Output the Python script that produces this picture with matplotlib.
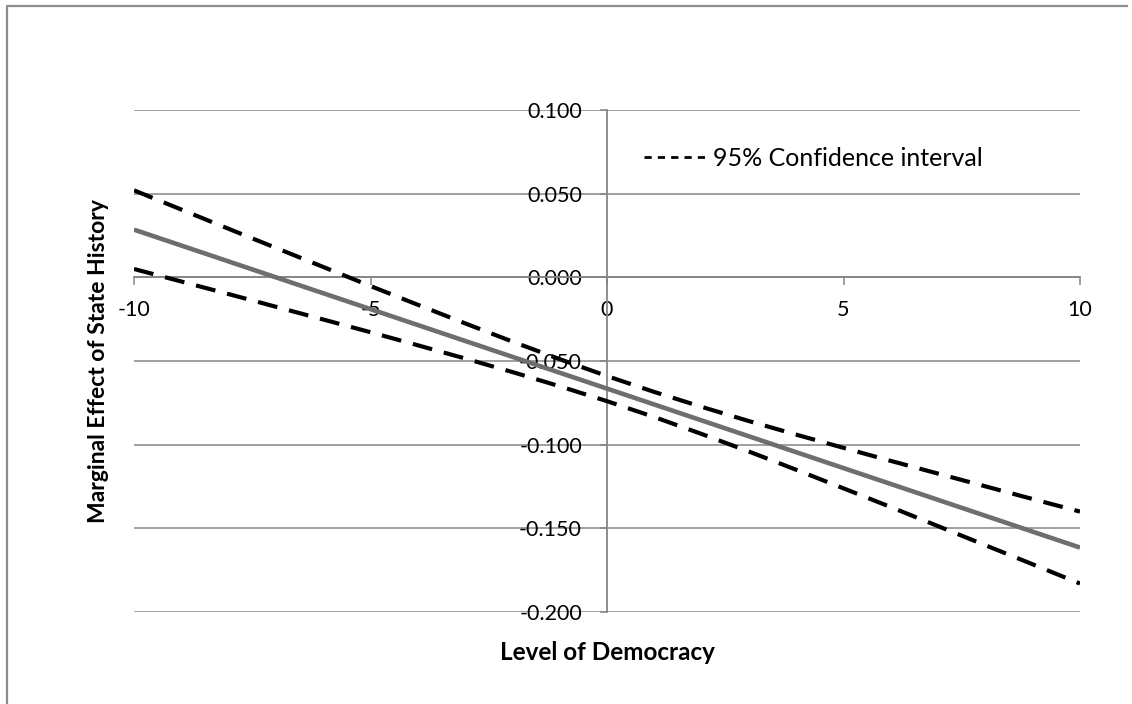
import matplotlib
matplotlib.use("Agg")
import matplotlib.pyplot as plt
from matplotlib.lines import Line2D

# marginal effect of state history by level of democracy
democracy = [-10, -9, -8, -7, -6, -5, -4, -3, -2, -1, 0,
             1, 2, 3, 4, 5, 6, 7, 8, 9, 10]
effect = [0.0285, 0.0190, 0.0095, 0.0000, -0.0095, -0.0190, -0.0285,
          -0.0380, -0.0475, -0.0570, -0.0665, -0.0760, -0.0855, -0.0950,
          -0.1045, -0.1140, -0.1235, -0.1330, -0.1425, -0.1520, -0.1615]
ci_upper = [0.0520, 0.0405, 0.0290, 0.0176, 0.0062, -0.0052, -0.0164,
            -0.0275, -0.0384, -0.0489, -0.0590, -0.0685, -0.0774, -0.0859,
            -0.0940, -0.1019, -0.1097, -0.1173, -0.1249, -0.1325, -0.1400]
ci_lower = [0.0050, -0.0025, -0.0100, -0.0176, -0.0252, -0.0328, -0.0406,
            -0.0485, -0.0566, -0.0651, -0.0740, -0.0835, -0.0936, -0.1041,
            -0.1150, -0.1261, -0.1373, -0.1487, -0.1601, -0.1715, -0.1830]

x_ticks = [-10, -5, 0, 5, 10]
y_ticks = [0.1, 0.05, 0.0, -0.05, -0.1, -0.15, -0.2]

plt.rcParams['font.family'] = ['Lato', 'DejaVu Sans']
grey = '#868686'

W, H = 1132, 704
fig = plt.figure(figsize=(W / 100, H / 100), dpi=100)
ax = fig.add_axes([134 / W, 1 - 612 / H, (1080 - 134) / W, (612 - 110) / H])

ax.plot(democracy, effect, color='#6e6e6e', lw=3.3, solid_capstyle='butt', zorder=3)
for band in (ci_upper, ci_lower):
    ax.plot(democracy, band, color='black', lw=3.0, dashes=(4.8, 2.9), zorder=4)

ax.set_xlim(-10, 10)
ax.set_ylim(-0.2, 0.1)
ax.set_xticks(x_ticks)
ax.set_xticklabels([str(t) for t in x_ticks])
ax.set_yticks(y_ticks)
ax.set_yticklabels(['%.3f' % t for t in y_ticks])

# excel style axes crossing at the origin
ax.spines['left'].set_position(('data', 0))
ax.spines['bottom'].set_position(('data', 0))
for s in ('top', 'right'):
    ax.spines[s].set_visible(False)
for s in ('left', 'bottom'):
    ax.spines[s].set_color(grey)
    ax.spines[s].set_linewidth(1.3)
    ax.spines[s].set_zorder(2)

ax.yaxis.grid(True, color=grey, lw=1.1)
ax.set_axisbelow(True)
ax.tick_params(axis='both', colors=grey, labelcolor='black', labelsize=15.5)
ax.tick_params(axis='x', direction='out', length=6, width=1.1, pad=10)
ax.tick_params(axis='y', direction='out', length=5, width=1.1, pad=13)

handle = Line2D([], [], color='black', lw=2.0, dashes=(2.6, 2.2))
ax.legend([handle], ['95% Confidence interval'], loc='center left',
          bbox_to_anchor=((644 - 134) / (1080 - 134), 1 - (158 - 110) / (612 - 110)),
          frameon=False, fontsize=18, handlelength=2.6, handletextpad=0.15,
          borderaxespad=0, borderpad=0)

fig.text(607 / W, 1 - 652 / H, 'Level of Democracy', ha='center', va='center',
         fontsize=17.5, fontweight='bold')
fig.text(99 / W, 1 - 361 / H, 'Marginal Effect of State History', ha='center',
         va='center', rotation=90, fontsize=16.5, fontweight='bold')

# chart area border
fig.add_artist(Line2D([7 / W, 7 / W, 1127 / W], [0, 1 - 6 / H, 1 - 6 / H],
                      transform=fig.transFigure, color='#8c8c8c', lw=1.6))

fig.savefig('out.png', dpi=100, facecolor='white')
